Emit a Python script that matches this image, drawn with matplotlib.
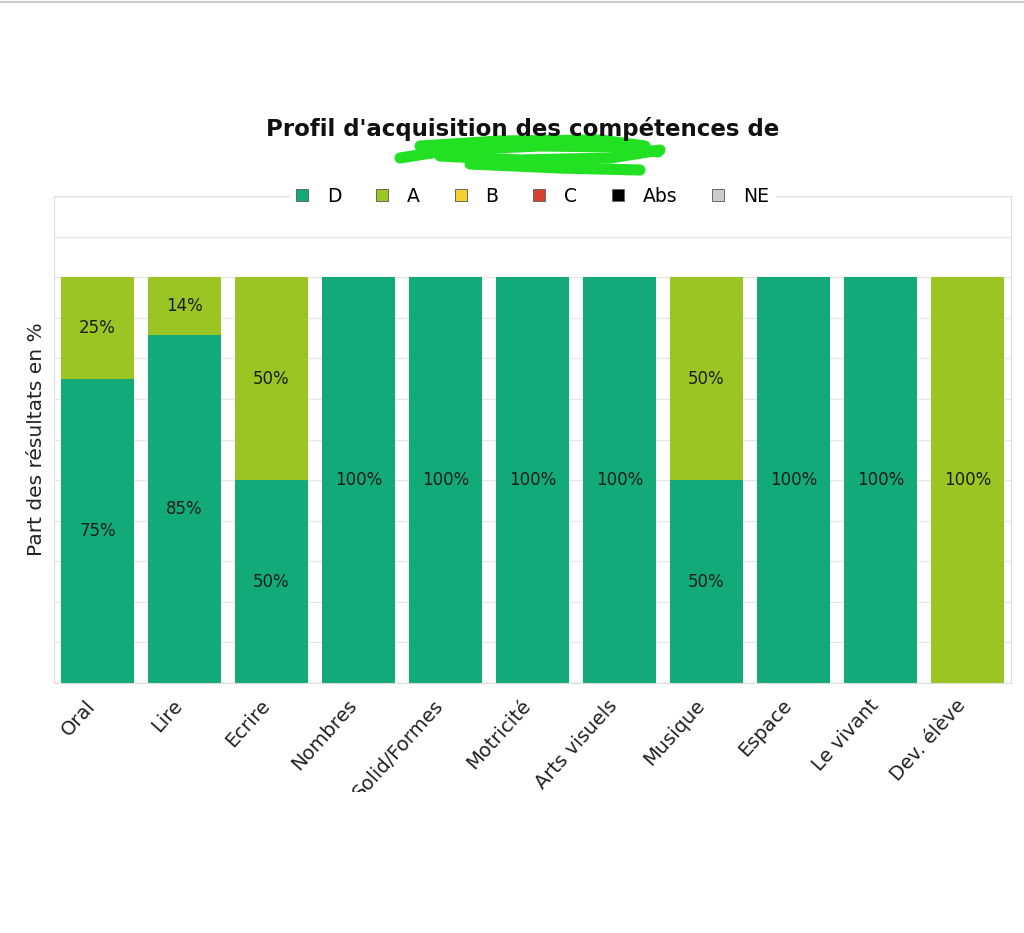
import matplotlib
matplotlib.use("Agg")
import matplotlib.pyplot as plt
import matplotlib.transforms as mtransforms
import numpy as np
from matplotlib.patches import Rectangle
from matplotlib.lines import Line2D

categories = ["Oral", "Lire", "Ecrire", "Nombres", "Solid/Formes", "Motricité",
              "Arts visuels", "Musique", "Espace", "Le vivant", "Dev. élève"]
series_names = ["D", "A", "B", "C", "Abs", "NE"]
d_vals = [75, 85.7, 50, 100, 100, 100, 100, 50, 100, 100, 0]
a_vals = [25, 14.3, 50, 0, 0, 0, 0, 50, 0, 0, 100]
b_vals = [0] * 11
c_vals = [0] * 11
abs_vals = [0] * 11
ne_vals = [0] * 11
colors = ["#12aa78", "#9bc523", "#f7d12c", "#d8412f", "#000000", "#cccccc"]

fig = plt.figure(figsize=(10.24, 9.33), dpi=100)
ax = fig.add_axes([54 / 1024, 1 - 683 / 933, 957 / 1024, 487 / 933])

x = np.arange(len(categories))
bottom = np.zeros(len(categories))
all_vals = [d_vals, a_vals, b_vals, c_vals, abs_vals, ne_vals]
for name, vals, col in zip(series_names, all_vals, colors):
    vals = np.array(vals, dtype=float)
    bars = ax.bar(x, vals, bottom=bottom.copy(), width=0.83, color=col, label=name, zorder=2)
    labels = [f"{int(v)}%" if v > 0 else "" for v in vals]
    ax.bar_label(bars, labels=labels, label_type="center", fontsize=12,
                 color="#1c1c1c", zorder=5)
    bottom = bottom + vals

ax.set_xlim(-0.5, len(categories) - 0.5)
ax.set_ylim(0, 120)
ax.set_yticks(np.arange(0, 121, 10))
ax.tick_params(left=False, labelleft=False, bottom=False, pad=6)
ax.yaxis.grid(True, color="#e6e6e6", linewidth=1, zorder=0)
ax.set_axisbelow(True)
for s in ax.spines.values():
    s.set_color("#dddddd")
ax.set_xticks(x, labels=categories, rotation=48, ha="right", rotation_mode="anchor",
              fontsize=14, color="#222222")
shift = mtransforms.ScaledTranslation(-12 / 100, 0, fig.dpi_scale_trans)
for lbl in ax.get_xticklabels():
    lbl.set_transform(lbl.get_transform() + shift)
ax.set_ylabel("Part des résultats en %", fontsize=14.5, color="#222222", labelpad=6)

handles = [Rectangle((0, 0), 1, 1, facecolor=c, edgecolor="#666666", linewidth=0.7) for c in colors]
leg = ax.legend(handles, series_names, loc="center", bbox_to_anchor=(0.5, 1.0), ncol=6,
                frameon=True, fontsize=13.5, handlelength=0.65, handleheight=0.65,
                columnspacing=1.85, handletextpad=1.0, borderpad=0.3, borderaxespad=0)
leg.get_frame().set_facecolor("white")
leg.get_frame().set_edgecolor("white")
leg.get_frame().set_alpha(1)

fig.text(0.51, 1 - 129 / 933, "Profil d'acquisition des compétences de", ha="center",
         va="center", fontsize=16.5, fontweight="bold", color="#111111")

# green scribble hiding the name
strokes_x = [[400, 450, 540, 620, 658], [420, 500, 600, 645], [440, 520, 610, 660], [470, 560, 640]]
strokes_y = [[158, 150, 146, 147, 152], [146, 141, 140, 146], [156, 160, 158, 150], [164, 168, 170]]
for sx, sy in zip(strokes_x, strokes_y):
    fig.add_artist(Line2D(np.array(sx) / 1024, 1 - np.array(sy) / 933,
                          color="#22e022", linewidth=8, solid_capstyle="round"))

# crop of the tick labels at the bottom of the screenshot
fig.add_artist(Rectangle((0, 0), 1, 1 - 792 / 933, transform=fig.transFigure,
                         facecolor="white", edgecolor="none", zorder=10))
fig.add_artist(Line2D([0, 1], [1 - 2 / 933, 1 - 2 / 933], color="#cccccc", linewidth=1.5))

fig.savefig("out.png", dpi=100)
